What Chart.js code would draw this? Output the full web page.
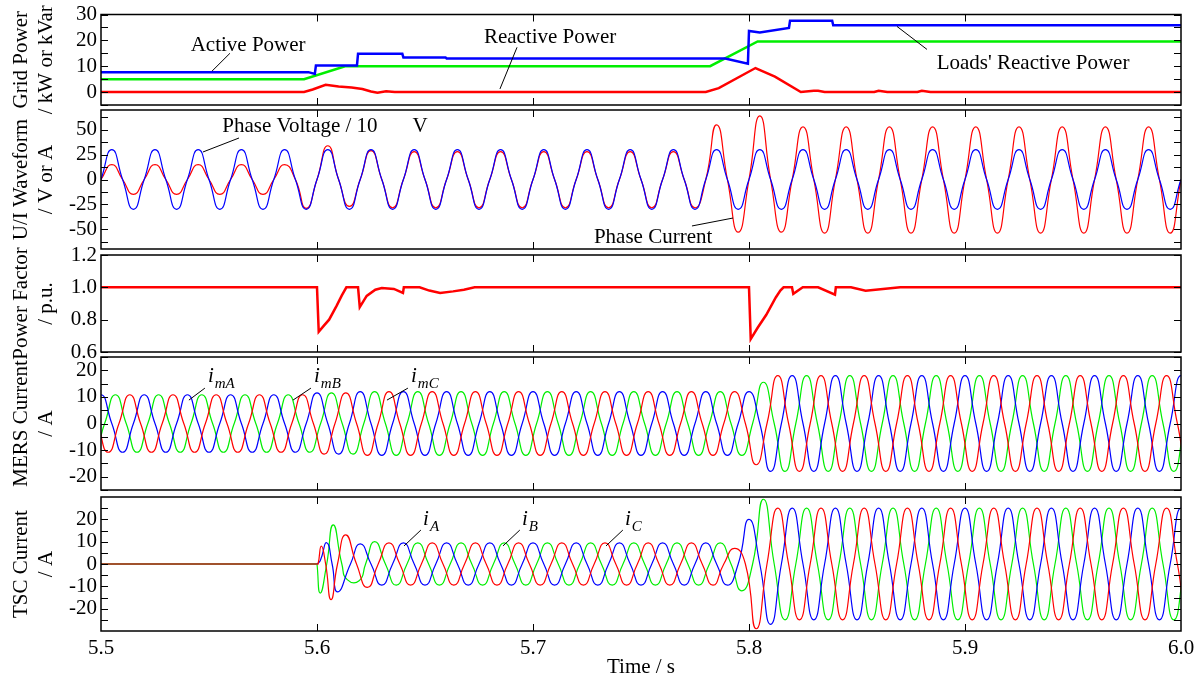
<!DOCTYPE html>
<html>
<head>
<meta charset="utf-8">
<script src="https://cdn.jsdelivr.net/npm/chart.js@4.4.0/dist/chart.umd.min.js"></script>
<style>
html, body { margin: 0; padding: 0; background: #fff; }
#wrap { position: relative; width: 1204px; height: 681px; overflow: hidden; }
#wrap canvas { position: absolute; left: 0; top: 0; }
</style>
</head>
<body>
<div id="wrap">
  <canvas id="p1" width="1204" height="681"></canvas>
  <canvas id="p2" width="1204" height="681"></canvas>
  <canvas id="p3" width="1204" height="681"></canvas>
  <canvas id="p4" width="1204" height="681"></canvas>
  <canvas id="p5" width="1204" height="681"></canvas>
</div>
<script>
// ---- axes ----
const xTicks = [5.5, 5.6, 5.7, 5.8, 5.9, 6.0];
const p1Ticks = [0, 10, 20, 30];
const p2Ticks = [-50, -25, 0, 25, 50];
const p3Ticks = [0.6, 0.8, 1.0, 1.2];
const p4Ticks = [-20, -10, 0, 10, 20];
const p5Ticks = [-20, -10, 0, 10, 20];

// ---- panel 1: grid power (kW / kVar) ----
const activeT = [5.5, 5.596, 5.599, 5.5995, 5.6185, 5.619, 5.6395, 5.64, 5.6595, 5.66, 5.789, 5.7995, 5.8, 5.805, 5.8185, 5.819, 5.8385, 5.839, 6.0];
const activeV = [7.7, 7.7, 7.0, 10.3, 10.3, 14.8, 14.8, 13.4, 13.4, 13.0, 13.0, 11.0, 23.6, 23.0, 24.8, 27.6, 27.6, 25.8, 25.8];
const loadsQT = [5.5, 5.594, 5.613, 5.782, 5.804, 6.0];
const loadsQV = [5.0, 5.0, 10.0, 10.0, 19.6, 19.6];
const reactT = [5.5, 5.594, 5.598, 5.604, 5.61, 5.616, 5.621, 5.625, 5.628, 5.632, 5.636, 5.78, 5.786, 5.803, 5.812, 5.824, 5.83, 5.832, 5.835, 5.858, 5.86, 5.864, 5.878, 5.88, 5.884, 6.0];
const reactV = [0, 0, 1.0, 2.8, 2.2, 1.8, 1.2, 0.2, -0.3, 0.3, 0, 0, 1.5, 9.3, 6.0, 0, 0.5, 0.5, 0, 0, 0.5, 0, 0, 0.5, 0, 0];

// ---- panel 2: half-cycle extremes, first one at 5.505 s ----
const voltExt = [30, -30, 30, -30, 30, -30, 30, -30, 30, -30, 30, -30, 30, -30, 30, -30, 30, -30, 30, -30,
  30, -30, 30, -30, 30, -30, 30, -30, 30, -30, 30, -30, 30, -30, 30, -30, 30, -30, 30, -30,
  30, -30, 30, -30, 30, -30, 30, -30, 30, -30];
const currExt = [15, -15, 15, -15, 15, -15, 15, -15, 15, -29, 34, -27, 29,
  -28.5, 28, -28.5, 28, -28.5, 28, -28.5, 28, -28.5, 28, -28.5, 28, -28.5, 28, -28.5,
  55, -53, 64, -53,
  53, -54, 53, -54, 53, -54, 53, -54, 53, -54, 53, -54, 53, -54, 53, -54, 53, -54];

// ---- panel 3: power factor ----
const pfT = [5.5, 5.6, 5.6008, 5.603, 5.6056, 5.609, 5.6115, 5.6136, 5.619, 5.6198, 5.623, 5.627, 5.63, 5.6356, 5.6398, 5.6402, 5.6475, 5.652, 5.657, 5.663, 5.668, 5.673,
  5.8, 5.8008, 5.804, 5.808, 5.8124, 5.8145, 5.816, 5.8199, 5.8205, 5.8249, 5.832, 5.8398, 5.8402, 5.8472, 5.854, 5.862, 5.87, 6.0];
const pfV = [1, 1, 0.725, 0.76, 0.8, 0.884, 0.95, 1.0, 1.0, 0.878, 0.947, 0.985, 0.996, 0.99, 0.965, 1.0, 1.0, 0.98, 0.965, 0.975, 0.985, 1.0,
  1.0, 0.68, 0.75, 0.83, 0.937, 0.98, 1.0, 1.0, 0.96, 1.0, 1.0, 0.955, 1.0, 1.0, 0.979, 0.99, 1.0, 1.0];

// ---- panel 4: MERS currents, half-cycle extremes ----
const mersAStart = 5.5;
const mersA = [10.8, -10.8, 10.8, -10.8, 10.8, -10.8, 10.8, -10.8, 10.8, -10.8, 11.5, -11.5,
  12, -12, 12, -12, 12, -12, 12, -12, 12, -12, 12, -12, 12, -12, 12, -12, 12, -12,
  12, -18,
  18, -18, 18, -18, 18, -18, 18, -18, 18, -18, 18, -18, 18, -18, 18, -18, 18, -18, 18];
const mersBStart = 5.49667;
const mersB = [-10.8, 10.8, -10.8, 10.8, -10.8, 10.8, -10.8, 10.8, -10.8, 10.8, -10.8, 11.5, -11.5,
  12, -12, 12, -12, 12, -12, 12, -12, 12, -12, 12, -12, 12, -12, 12, -12, 12,
  -12, 15.5, -18,
  18, -18, 18, -18, 18, -18, 18, -18, 18, -18, 18, -18, 18, -18, 18, -18, 18, -18];
const mersCStart = 5.49333;
const mersC = [10.8, -10.8, 10.8, -10.8, 10.8, -10.8, 10.8, -10.8, 10.8, -10.8, 10.8, -11.5, 11.5,
  -12, 12, -12, 12, -12, 12, -12, 12, -12, 12, -12, 12, -12, 12, -12, 12, -12, 12,
  -15.5, 18,
  -18, 18, -18, 18, -18, 18, -18, 18, -18, 18, -18, 18, -18, 18, -18, 18, -18, 18, -18];

// ---- panel 5: TSC currents ----
const tscOff = [[5.5, 0], [5.6, 0]];
const tscATrans = [[5.6, 0], [5.6015, 1.5], [5.6045, 9.5], [5.607, 0], [5.6095, -12.5], [5.6155, 0], [5.62, 9]];
const tscBTrans = [[5.6, 0], [5.6015, -13], [5.6045, 0], [5.6075, 17.5], [5.6115, 0], [5.614, -7], [5.6195, -7.5], [5.6225, 0], [5.6267, 10]];
const tscCTrans = [[5.6, 0], [5.6005, 0], [5.602, 8], [5.604, 0], [5.6065, -16], [5.6095, 0], [5.6133, 13], [5.6183, 0], [5.6233, -10.5]];
const tscAStart = 5.63;
const tscA = [-9.5, 9.5, -9.5, 9.5, -9.5, 9.5, -9.5, 9.5, -9.5, 9.5, -9.5, 9.5, -9.5, 9.5, -9.5, 9.5, -9.5,
  20, -27,
  25, -25, 25, -25, 25, -25, 25, -25, 25, -25, 25, -25, 25, -25, 25, -25, 25, -25, 25];
const tscBStart = 5.63667;
const tscB = [-9.5, 9.5, -9.5, 9.5, -9.5, 9.5, -9.5, 9.5, -9.5, 9.5, -9.5, 9.5, -9.5, 9.5, -9.5, 9.5,
  -12, 29, -25,
  25, -25, 25, -25, 25, -25, 25, -25, 25, -25, 25, -25, 25, -25, 25, -25, 25, -25];
const tscCStart = 5.63333;
const tscC = [9.5, -9.5, 9.5, -9.5, 9.5, -9.5, 9.5, -9.5, 9.5, -9.5, 9.5, -9.5, 9.5, -9.5, 9.5, -9.5,
  7, -29, 25,
  -25, 25, -25, 25, -25, 25, -25, 25, -25, 25, -25, 25, -25, 25, -25, 25, -25, 25, -25];

// ---- helpers ----
const HALF = 0.01; // half period of the 50 Hz waveforms
function wave(t0, ext) {
    const pts = [];
    ext.forEach((v, k) => {
        const t = t0 + k * HALF;
        pts.push({x: t - HALF / 2, y: 0}, {x: t, y: v});
    });
    pts.push({x: t0 + (ext.length - 0.5) * HALF, y: 0});
    return pts;
}
function pairs(list) { return list.map(p => ({x: p[0], y: p[1]})); }
function series(ts, vs) { return ts.map((x, i) => ({x: x, y: vs[i]})); }

const BLUE = '#0000ff', GREEN = '#00ee00', RED = '#ff0000';
const FAMILY = '"Liberation Serif", "Times New Roman", serif';
const FONT = {family: FAMILY, size: 21, lineHeight: 1};
Chart.defaults.color = '#000';

function stepLine(data, color) {
    return {data: data, borderColor: color, borderWidth: 2.5, tension: 0, pointRadius: 0};
}
function waveLine(data, color) {
    return {data: data, borderColor: color, borderWidth: 1.2, tension: 0.55, pointRadius: 0};
}

// frame, inward ticks, axis titles and notes
const panelDeco = {
    id: 'panelDeco',
    afterDatasetsDraw(chart, args, o) {
        const {ctx, chartArea: a, scales: {x, y}} = chart;
        ctx.save();
        ctx.strokeStyle = '#000';
        ctx.lineWidth = 1.5;
        ctx.strokeRect(a.left, a.top, a.right - a.left, a.bottom - a.top);
        ctx.lineWidth = 1;
        ctx.beginPath();
        xTicks.slice(1, -1).forEach(t => {
            const px = Math.round(x.getPixelForValue(t)) + 0.5;
            ctx.moveTo(px, a.top); ctx.lineTo(px, a.top + 7);
            ctx.moveTo(px, a.bottom); ctx.lineTo(px, a.bottom - 7);
        });
        for (let v = o.minorFrom; v <= o.minorTo + 1e-9; v += o.minorStep) {
            const py = Math.round(y.getPixelForValue(v)) + 0.5;
            ctx.moveTo(a.left, py); ctx.lineTo(a.left + 7, py);
            ctx.moveTo(a.right, py); ctx.lineTo(a.right - 7, py);
        }
        ctx.stroke();

        // axis titles
        ctx.fillStyle = '#000';
        ctx.font = '21px ' + FAMILY;
        ctx.textAlign = 'center';
        ctx.textBaseline = 'middle';
        const cy = (a.top + a.bottom) / 2;
        o.title.forEach((line, i) => {
            ctx.save();
            ctx.translate(21 + i * 25, cy);
            ctx.rotate(-Math.PI / 2);
            ctx.fillText(line, 0, 0);
            ctx.restore();
        });

        // notes with leader lines
        (o.notes || []).forEach(n => {
            const px = x.getPixelForValue(n.t), py = y.getPixelForValue(n.v);
            if (n.sub) {
                ctx.textAlign = 'left';
                ctx.textBaseline = 'alphabetic';
                ctx.font = 'italic 21px ' + FAMILY;
                ctx.fillText('i', px, py);
                const w = ctx.measureText('i').width;
                ctx.font = 'italic 15px ' + FAMILY;
                ctx.fillText(n.sub, px + w + 1, py + 6);
            } else {
                ctx.textAlign = 'center';
                ctx.textBaseline = 'middle';
                ctx.font = '21px ' + FAMILY;
                ctx.fillText(n.text, px, py);
            }
            if (n.line) {
                ctx.beginPath();
                ctx.moveTo(x.getPixelForValue(n.line[0]), y.getPixelForValue(n.line[1]));
                ctx.lineTo(x.getPixelForValue(n.line[2]), y.getPixelForValue(n.line[3]));
                ctx.stroke();
            }
        });
        ctx.restore();
    }
};

function makePanel(id, cfg) {
    return new Chart(document.getElementById(id), {
        type: 'line',
        data: {datasets: cfg.datasets},
        options: {
            responsive: false,
            animation: false,
            events: [],
            layout: {padding: {top: cfg.top, bottom: cfg.showX ? 0 : 681 - cfg.bottom, left: 0, right: 23}},
            plugins: {legend: {display: false}, tooltip: {enabled: false}, panelDeco: cfg.deco},
            scales: {
                x: {
                    type: 'linear', min: 5.5, max: 6.0, display: !!cfg.showX,
                    afterBuildTicks: s => { s.ticks = xTicks.map(v => ({value: v})); },
                    afterFit: s => { if (cfg.showX) s.height = 50; },
                    grid: {display: false, drawTicks: false},
                    border: {display: false},
                    ticks: {padding: 7, font: FONT, color: '#000', maxRotation: 0, autoSkip: false, callback: v => v.toFixed(1)},
                    title: {display: !!cfg.showX, text: 'Time / s', font: {family: FAMILY, size: 21}, color: '#000', padding: {top: 0, bottom: 1}}
                },
                y: {
                    type: 'linear', min: cfg.min, max: cfg.max,
                    afterBuildTicks: s => { s.ticks = cfg.yTicks.map(v => ({value: v})); },
                    afterFit: s => { s.width = 101; },
                    grid: {display: false, drawTicks: false},
                    border: {display: false},
                    ticks: {padding: 4, font: FONT, color: '#000', autoSkip: false, callback: cfg.fmt || (v => v)}
                }
            }
        },
        plugins: [panelDeco]
    });
}

makePanel('p1', {
    top: 14, bottom: 105, min: -5, max: 30, yTicks: p1Ticks,
    datasets: [
        stepLine(series(activeT, activeV), BLUE),
        stepLine(series(loadsQT, loadsQV), GREEN),
        stepLine(series(reactT, reactV), RED)
    ],
    deco: {
        minorFrom: -5, minorTo: 30, minorStep: 5, title: ['Grid Power', '/ kW or kVar'],
        notes: [
            {text: 'Active Power', t: 5.5681, v: 18.1, line: [5.5597, 15, 5.5514, 8.1]},
            {text: 'Reactive Power', t: 5.7079, v: 21.2, line: [5.6926, 17.3, 5.6847, 1.2]},
            {text: "Loads' Reactive Power", t: 5.9315, v: 11.2, line: [5.8824, 16.5, 5.8685, 25.4]}
        ]
    }
});

makePanel('p2', {
    top: 110, bottom: 249, min: -70, max: 70, yTicks: p2Ticks,
    datasets: [
        waveLine(wave(5.505, voltExt), BLUE),
        waveLine(wave(5.505, currExt), RED)
    ],
    deco: {
        minorFrom: -62.5, minorTo: 62.5, minorStep: 12.5, title: ['U/I Waveform', '/ V or A'],
        notes: [
            {text: 'Phase Voltage / 10', t: 5.5921, v: 52.9, line: [5.5639, 41.8, 5.5472, 27.7]},
            {text: 'V', t: 5.6477, v: 52.9},
            {text: 'Phase Current', t: 5.7556, v: -58.9, line: [5.7736, -46.8, 5.7926, -38.8]}
        ]
    }
});

makePanel('p3', {
    top: 255, bottom: 352, min: 0.6, max: 1.2, yTicks: p3Ticks, fmt: v => v.toFixed(1),
    datasets: [stepLine(series(pfT, pfV), RED)],
    deco: {minorFrom: 0.6, minorTo: 1.2, minorStep: 0.2, title: ['Power Factor', '/ p.u.']}
});

makePanel('p4', {
    top: 357, bottom: 490, min: -25, max: 25, yTicks: p4Ticks,
    datasets: [
        waveLine(wave(mersCStart, mersC), RED),
        waveLine(wave(mersAStart, mersA), BLUE),
        waveLine(wave(mersBStart, mersB), GREEN)
    ],
    deco: {
        minorFrom: -25, minorTo: 25, minorStep: 5, title: ['MERS Current', '/ A'],
        notes: [
            {sub: 'mA', t: 5.5495, v: 15.6, line: [5.5481, 13.3, 5.5407, 8.8]},
            {sub: 'mB', t: 5.5986, v: 15.6, line: [5.5972, 13.3, 5.5889, 8.8]},
            {sub: 'mC', t: 5.6435, v: 15.6, line: [5.6421, 13.3, 5.6324, 8.8]}
        ]
    }
});

makePanel('p5', {
    top: 497, bottom: 631, showX: true, min: -30, max: 30, yTicks: p5Ticks,
    datasets: [
        {data: pairs(tscOff), borderColor: '#a0522d', borderWidth: 2, tension: 0, pointRadius: 0},
        waveLine(pairs(tscCTrans).concat(wave(tscCStart, tscC)), RED),
        waveLine(pairs(tscATrans).concat(wave(tscAStart, tscA)), BLUE),
        waveLine(pairs(tscBTrans).concat(wave(tscBStart, tscB)), GREEN)
    ],
    deco: {
        minorFrom: -25, minorTo: 25, minorStep: 5, title: ['TSC Current', '/ A'],
        notes: [
            {sub: 'A', t: 5.6491, v: 17.5, line: [5.6481, 15.2, 5.6403, 8.1]},
            {sub: 'B', t: 5.6949, v: 17.5, line: [5.6939, 15.2, 5.6861, 8.1]},
            {sub: 'C', t: 5.7426, v: 17.5, line: [5.7416, 15.2, 5.7338, 8.1]}
        ]
    }
});
</script>
</body>
</html>
